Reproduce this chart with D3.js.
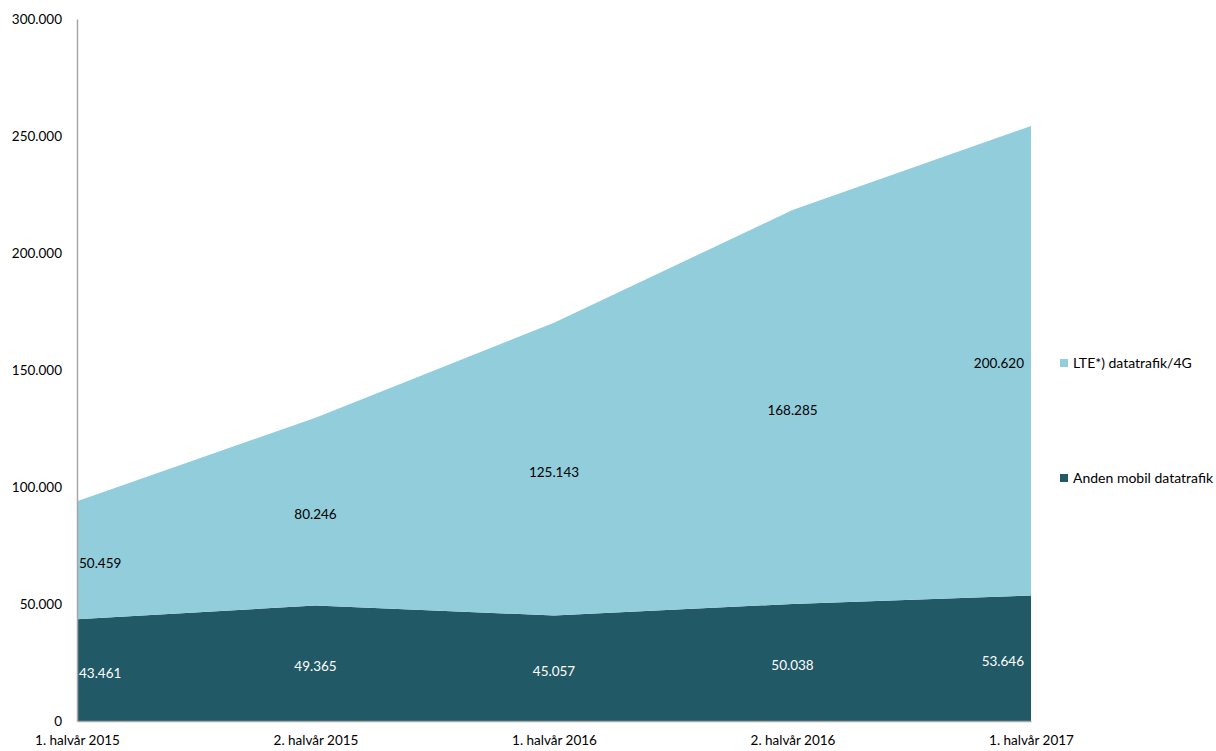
<!DOCTYPE html>
<meta charset="utf-8">
<title>Mobil datatrafik</title>
<style>
  body { margin: 0; background: #fff; }
  text { font-family: Lato, "Open Sans", sans-serif; }
</style>
<body>
  <script src="https://d3js.org/d3.v7.min.js"></script>
  <script>
    const width = 1216;
    const height = 751;

    // data
    const periods = ["1. halvår 2015", "2. halvår 2015", "1. halvår 2016", "2. halvår 2016", "1. halvår 2017"];
    const anden = [43461, 49365, 45057, 50038, 53646];
    const lte = [50459, 80246, 125143, 168285, 200620];
    const yTicks = [0, 50000, 100000, 150000, 200000, 250000, 300000];

    const seriesNames = ["Anden mobil datatrafik", "LTE*) datatrafik/4G"];
    const colors = ["#215967", "#92cddc"];
    const labelColors = ["#ffffff", "#000000"];

    const rows = periods.map((p, i) => ({ period: p, anden: anden[i], lte: lte[i] }));
    const stack = d3.stack().keys(["anden", "lte"]);
    const layers = stack(rows);

    const plotLeft = 77, plotRight = 1031, plotTop = 19, plotBottom = 721;
    const fontSize = 13.5;

    const svg = d3.select("body")
      .append("svg")
      .attr("width", width)
      .attr("height", height);

    const x = d3.scalePoint()
      .domain(periods)
      .range([plotLeft, plotRight]);

    const y = d3.scaleLinear()
      .domain([0, 300000])
      .range([plotBottom, plotTop]);

    const fmt = v => v === 0 ? "0" : d3.format(",")(v).replace(/,/g, ".");

    // areas
    const area = d3.area()
      .x(d => x(d.data.period))
      .y0(d => y(d[0]))
      .y1(d => y(d[1]));

    svg.append("g")
      .selectAll("path")
      .data(layers)
      .join("path")
      .attr("d", area)
      .attr("fill", (d, i) => colors[i]);

    // y axis
    const yAxis = d3.axisLeft(y)
      .tickValues(yTicks)
      .tickFormat(fmt)
      .tickSize(0)
      .tickPadding(15);

    const gy = svg.append("g")
      .attr("transform", `translate(${plotLeft},0)`)
      .call(yAxis);
    gy.select(".domain").attr("stroke", "#a6a6a6").attr("stroke-width", 1.5);
    gy.selectAll("text").attr("font-size", fontSize).attr("fill", "#000")
      .style("font-family", "Lato, 'Open Sans', sans-serif");

    // x axis
    const xAxis = d3.axisBottom(x)
      .tickSize(0)
      .tickPadding(14);

    const gx = svg.append("g")
      .attr("transform", `translate(0,${plotBottom})`)
      .call(xAxis);
    gx.select(".domain").attr("stroke", "#a6a6a6").attr("stroke-width", 1.5);
    gx.selectAll("text").attr("font-size", fontSize).attr("fill", "#000")
      .style("font-family", "Lato, 'Open Sans', sans-serif");

    // data labels in the middle of each band
    const last = periods.length - 1;
    layers.forEach((layer, li) => {
      svg.append("g")
        .selectAll("text")
        .data(layer)
        .join("text")
        .attr("x", (d, i) => i === 0 ? x(d.data.period) + 2 : i === last ? x(d.data.period) - 7 : x(d.data.period))
        .attr("y", d => y((d[0] + d[1]) / 2) + 3)
        .attr("dy", "0.35em")
        .attr("text-anchor", (d, i) => i === 0 ? "start" : i === last ? "end" : "middle")
        .attr("font-size", fontSize)
        .attr("fill", labelColors[li])
        .text(d => fmt(d[1] - d[0]));
    });

    // legend
    const legendItems = [
      { name: seriesNames[1], color: colors[1], cy: 363 },
      { name: seriesNames[0], color: colors[0], cy: 478 }
    ];
    const lg = svg.append("g")
      .selectAll("g")
      .data(legendItems)
      .join("g")
      .attr("transform", d => `translate(1060,${d.cy})`);
    lg.append("rect")
      .attr("x", 0).attr("y", -4)
      .attr("width", 8).attr("height", 8)
      .attr("fill", d => d.color);
    lg.append("text")
      .attr("x", 13)
      .attr("dy", "0.35em")
      .attr("font-size", 14)
      .attr("fill", "#000")
      .text(d => d.name);
  </script>
</body>
